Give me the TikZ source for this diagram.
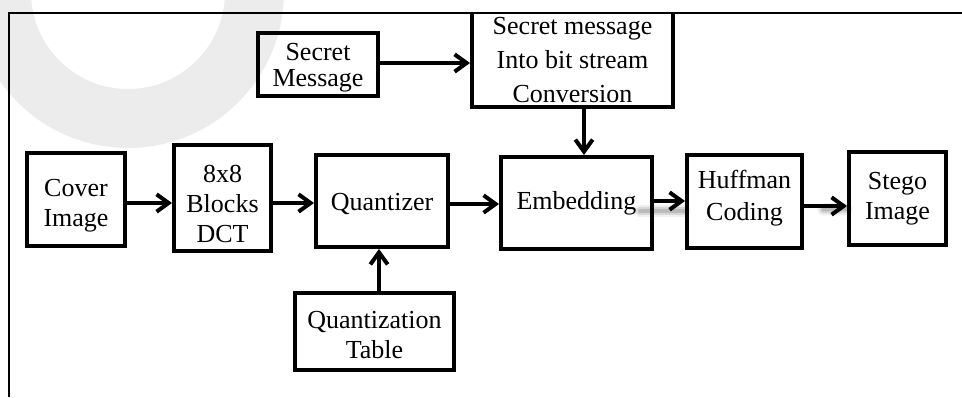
\documentclass[tikz,border=0pt]{standalone}
\usepackage{fontspec}
\setmainfont{Liberation Serif}
\usetikzlibrary{arrows.meta}
\begin{document}
\begin{tikzpicture}[x=0.75pt,y=-0.75pt,
  blk/.style={draw,line width=3pt,rectangle,inner sep=0pt,outer sep=0pt},
  lbl/.style={align=center,inner sep=0pt,font=\fontsize{19.5}{22.5}\selectfont},
  arr/.style={line width=3pt,-{Straight Barb[length=9pt,width=13pt]},
              shorten >=1.5pt,shorten <=1.5pt},
  frameline/.style={line width=1.2pt},
  haze/.style={line cap=round,black}]
\useasboundingbox (0,0) rectangle (962,397);

% light grey ring in the upper left corner
\begin{scope}
  \clip (0,0) rectangle (962,397);
  \fill[gray!15,even odd rule] (128,-8) circle[radius=117pt] (128,-8) circle[radius=72.75pt];
\end{scope}

% frame: top and left rules
\draw[frameline] (9,397) -- (9,13) -- (962,13);

% blocks
\node[blk,minimum width=73.5pt,minimum height=69.75pt] (cover) at (76,199.5) {};
\node[blk,minimum width=72.75pt,minimum height=79.5pt] (dct) at (222.5,198) {};
\node[blk,minimum width=99pt,minimum height=69pt] (quant) at (382,201) {};
\node[blk,minimum width=119.25pt,minimum height=57.75pt] (qtab) at (374.5,331.5) {};
\node[blk,minimum width=90pt,minimum height=47.25pt] (secret) at (318,64.5) {};
% this block hangs from the top rule, which serves as its upper edge
\node[blk,draw=none,minimum width=150.75pt,minimum height=70.5pt] (conv) at (572.5,60) {};
\draw[line width=3pt] (conv.north west) -- (conv.south west) -- (conv.south east) -- (conv.north east);
\node[blk,minimum width=113.25pt,minimum height=69pt] (embed) at (576.5,203) {};
\node[blk,minimum width=86.25pt,minimum height=69.75pt] (huff) at (744.5,201.5) {};
\node[blk,minimum width=72.75pt,minimum height=69.75pt] (stego) at (897.5,198.5) {};

% block labels
\node[lbl] (coverlbl) at ([yshift=-4.5pt]cover.center) {Cover\\Image};
\node[lbl] (dctlbl) at ([yshift=-4.5pt]dct.center) {8x8\\Blocks\\DCT};
\node[lbl] (quantlbl) at ([yshift=-2.2pt]quant.center) {Quantizer};
\node[lbl] (qtablbl) at ([yshift=-3pt]qtab.center) {Quantization\\Table};
\node[lbl,font=\fontsize{19.5}{19.5}\selectfont] (secretlbl) at ([yshift=-2.6pt]secret.center) {Secret\\Message};
\node[lbl,font=\fontsize{19.5}{25.5}\selectfont] (convlbl) at (conv.center) {Secret message\\Into bit stream\\Conversion};
\node[lbl] (embedlbl) at (embed.center) {Embedding};
\node[lbl,font=\fontsize{19.5}{24}\selectfont] (hufflbl) at ([yshift=2.2pt]huff.center) {Huffman\\Coding};
\node[lbl] (stegolbl) at (stego.center) {Stego\\Image};

% soft shadows behind the last two arrows
\foreach \w/\o in {9pt/0.06,6pt/0.10,3pt/0.14}{
  \draw[haze,line width=\w,opacity=\o] ([xshift=-9pt,yshift=-6pt]embed.east) -- ([xshift=-2pt,yshift=-7pt]huff.west);
  \draw[haze,line width=\w,opacity=\o] ([xshift=16pt,yshift=-6pt]huff.east) -- ([xshift=-2pt,yshift=-8pt]stego.west);
}

% connectors
\path (cover.east) ++(0,3.5) coordinate (c1);
\draw[arr] (c1) -- (c1 -| dct.west);
\path (dct.east) ++(0,5) coordinate (c2);
\draw[arr] (c2) -- (c2 -| quant.west);
\path (quant.east) ++(0,3) coordinate (c3);
\draw[arr] (c3) -- (c3 -| embed.west);
\path (embed.east) ++(0,-2) coordinate (c4);
\draw[arr] (c4) -- (c4 -| huff.west);
\path (huff.east) ++(0,4.5) coordinate (c5);
\draw[arr] (c5) -- (c5 -| stego.west);
\path (secret.east) ++(0,-1.5) coordinate (c6);
\draw[arr] (c6) -- (c6 -| conv.west);
\path (conv.south) ++(11.5,0) coordinate (c7);
\draw[arr] (c7) -- (c7 |- embed.north);
\path (qtab.north) ++(4.5,0) coordinate (c8);
\draw[arr] (c8) -- (c8 |- quant.south);
\end{tikzpicture}
\end{document}
